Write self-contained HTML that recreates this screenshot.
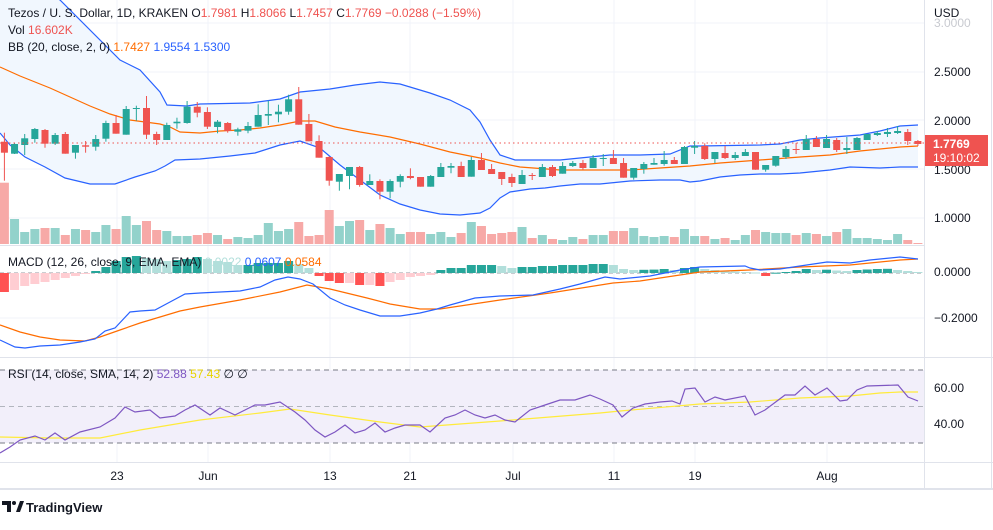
<!DOCTYPE html>
<html><head><meta charset="utf-8"><style>
html,body{margin:0;padding:0;background:#fff;}
body{width:993px;height:525px;overflow:hidden;font-family:"Liberation Sans",sans-serif;}
svg text{font-family:"Liberation Sans",sans-serif;}
</style></head><body>
<svg id="s" width="993" height="525" viewBox="0 0 993 525" xmlns="http://www.w3.org/2000/svg">
<rect width="993" height="525" fill="#fff"/>
<g id="grid" stroke="#f0f3fa" stroke-width="1">
<line x1="117" y1="0" x2="117" y2="462"/><line x1="208" y1="0" x2="208" y2="462"/><line x1="330" y1="0" x2="330" y2="462"/><line x1="410" y1="0" x2="410" y2="462"/><line x1="513" y1="0" x2="513" y2="462"/><line x1="614" y1="0" x2="614" y2="462"/><line x1="695" y1="0" x2="695" y2="462"/><line x1="827" y1="0" x2="827" y2="462"/>
<line x1="0" y1="23" x2="924" y2="23"/><line x1="0" y1="72" x2="924" y2="72"/><line x1="0" y1="120" x2="924" y2="120"/><line x1="0" y1="169" x2="924" y2="169"/><line x1="0" y1="218" x2="924" y2="218"/>
<line x1="0" y1="318" x2="924" y2="318"/><line x1="0" y1="388" x2="924" y2="388"/><line x1="0" y1="424" x2="924" y2="424"/>
</g>
<g id="bb"></g>
<g id="vol"></g>
<g id="cand"></g>
<line x1="0" y1="143" x2="924" y2="143" stroke="#ef5350" stroke-width="1" stroke-dasharray="1.5,3"/>
<g id="macd"></g>
<g id="rsi"></g>
<g stroke="#e0e3eb" stroke-width="1">
<line x1="0" y1="245.5" x2="924" y2="245.5"/>
<line x1="0" y1="357.5" x2="993" y2="357.5"/>
<line x1="0" y1="462.5" x2="993" y2="462.5"/>
<line x1="0" y1="489" x2="993" y2="489" stroke-width="2"/>
<line x1="924.5" y1="0" x2="924.5" y2="489"/>
<line x1="991.5" y1="0" x2="991.5" y2="489"/>
</g>
<g font-size="12" fill="#131722">
<text x="934" y="17">USD</text>
<text x="934" y="27" fill="#c8cad0">3.0000</text>
<text x="934" y="76">2.5000</text>
<text x="934" y="125">2.0000</text>
<text x="934" y="174">1.5000</text>
<text x="934" y="222">1.0000</text>
<text x="934" y="276">0.0000</text>
<text x="934" y="322">−0.2000</text>
<text x="934" y="392">60.00</text>
<text x="934" y="428">40.00</text>
</g>
<rect x="925" y="135" width="63" height="31" fill="#ef5350"/>
<text x="933" y="148" font-size="12" fill="#fff" font-weight="bold">1.7769</text>
<text x="933" y="162" font-size="12" fill="#fff">19:10:02</text>
<g font-size="12" fill="#131722" text-anchor="middle">
<text x="117" y="480">23</text><text x="208" y="480">Jun</text><text x="330" y="480">13</text><text x="410" y="480">21</text><text x="513" y="480">Jul</text><text x="614" y="480">11</text><text x="695" y="480">19</text><text x="827" y="480">Aug</text>
</g>
<g font-size="12">
<text x="8" y="17" fill="#131722" textLength="473" lengthAdjust="spacing">Tezos / U. S. Dollar, 1D, KRAKEN  O<tspan fill="#ef5350">1.7981</tspan>  H<tspan fill="#ef5350">1.8066</tspan>  L<tspan fill="#ef5350">1.7457</tspan>  C<tspan fill="#ef5350">1.7769  −0.0288 (−1.59%)</tspan></text>
<text x="8" y="34" fill="#131722">Vol  <tspan fill="#ef5350">16.602K</tspan></text>
<text x="8" y="51" fill="#131722">BB (20, close, 2, 0)  <tspan fill="#ff6d00">1.7427</tspan>  <tspan fill="#2962ff">1.9554</tspan>  <tspan fill="#2962ff">1.5300</tspan></text>
<text x="8" y="266" fill="#131722">MACD (12, 26, close, 9, EMA, EMA)  <tspan fill="#b2dfdb">0.0022</tspan>  <tspan fill="#2962ff">0.0607</tspan>  <tspan fill="#ff6d00">0.0584</tspan></text>
<text x="8" y="378" fill="#131722">RSI (14, close, SMA, 14, 2)  <tspan fill="#7e57c2">52.88</tspan>  <tspan fill="#e8d400">57.43</tspan>  ∅  ∅</text>
</g>
<g transform="translate(2,501)">
<path d="M0 0h9v11h-4v-7h-5z" fill="#131722"/>
<circle cx="12" cy="2" r="2" fill="#131722"/>
<path d="M14 11l4-11h4l-4 11z" fill="#131722"/>
</g>
<text x="26" y="512" font-size="13" fill="#131722" font-weight="bold">TradingView</text>
</svg>
<script>
var NS="http://www.w3.org/2000/svg";
function el(p,t,a){var e=document.createElementNS(NS,t);for(var k in a)e.setAttribute(k,a[k]);document.getElementById(p).appendChild(e);return e;}
function X(i){return 4.4+10.15*i;}
function pl(pts){return pts.map(function(p){return p[0]+","+p[1]}).join(" ");}
var C=[[141.7,152.7,132.7,180.7,0],[144,153.7,143,154,1],[138.3,145,134,155,1],[129,139,128,142.7,1],[130,143.7,129,147.7,0],[135,143.7,133,145,1],[134,153.7,132,153.7,0],[145,152.7,145,158.7,1],[145.3,146.7,141,152.7,0],[139,146.7,135,150.7,1],
[123,138.7,120.7,141.7,1],[123,133.7,115,133.7,0],[109,134.7,106,134.7,1],[108,109,105.7,120.7,1],[108,134.7,96,139,0],[134,140,131.7,145,0],[125,140,122.7,140,1],[121.7,123.3,117.7,128.7,1],[106.7,123,101,123.7,1],[106.7,112.7,102,117.3,0],
[112,126.7,107.3,129,0],[121.7,127,120,133.3,1],[123,131,122,132.7,0],[129.3,131.7,127.7,135.7,1],[126,130.7,122,133.3,1],[115,126.7,104.3,126.7,1],[114,115.7,100.7,125,1],[111.7,114.3,104.7,122.3,1],[99.3,111.7,94.7,114.7,1],[99.3,124.7,87,124.7,0],
[124,141.3,114,141.3,0],[141,157.7,135.3,157.7,0],[157,180.7,156.3,185.7,0],[174,181.7,174,190.7,1],[167,176,167,189.3,1],[167,185,166,186.7,0],[181,185,174.3,185,1],[181,191.7,179.3,199.3,0],[181,191.7,179.3,198.3,1],[176,181.7,174.3,187.3,1],
[176,178,168.3,179.3,0],[177,186.7,177,186.7,0],[176,186.7,175,186.7,1],[167,177,163,177,1],[166,167.7,163,173.3,1],[166,177,161.7,177,0],[160,176.7,157,176.7,1],[160,170,153,170,0],[169,174,164,174,0],[172,179,172,185,0],
[177,183,173.7,187,0],[175,184,170,184,1],[175,176,173,180,0],[167,177,164,177,1],[167,176,165,177,0],[166,173.7,162,173.7,1],[163,166,161,167,1],[163,168,160,170,0],[158,168,155,168,1],[158,159,154,166,1],
[158,164,150,164,0],[163,177.7,158,177.7,0],[168,177.7,168,179.7,1],[164,169,162,173.7,1],[163,164.7,158,164.7,1],[160,164,151,165.7,1],[160,164,157,164,0],[147,164,146,164,1],[146,147.7,141,154,1],[146,159,143.3,160,0],
[152,159,152,163,1],[153,158,146,159,0],[155,158,152,160,1],[152,156,149,156,1],[152,169.7,152,169.7,0],[165,169.7,165,171.7,1],[156,165.7,156,166.7,1],[149,157,146,159,1],[149,150,143,154,0],[139,150,135,150,1],
[139,147,136,147,0],[139,148,135,148,1],[140,150,138,152,0],[148,150,137,154,1],[138,150,137,150,1],[134,140,134,140,1],[133,135,131,136,1],[132,134,128,137,1],[131,133,126,134,1],[132,141,129,145,0],[141,144,140,146,0]];
var V=[[182.7,0],[219,1],[232,1],[229,1],[228,0],[228,1],[235,0],[229,1],[230,0],[232,1],[225,1],[229,0],[216,1],[225,1],[221,0],[230,0],[231,1],[236,1],[236,1],[235,0],[233,0],[235,1],[239,0],[237,1],[238,1],[235,1],[223,1],[231,1],[229,1],[222,0],[236,0],[235,0],[210,0],
[226,1],[221,1],[220,0],[230,1],[224,0],[228,1],[234,1],[232,0],[232,0],[234,1],[232,1],[237,1],[233,0],[222,1],[226,0],[234,0],[233,0],[232,0],[227,1],[238,0],[235,1],[239,0],[240,1],[237,1],[239,0],[235,1],[235,1],[231,0],
[231,0],[228,1],[236,1],[237,1],[236,1],[237,0],[229,1],[236,1],[236,0],[239,1],[238,0],[240,1],[235,1],[230,0],[232,1],[233,1],[233,1],[235,0],[233,1],[234,0],[236,1],[232,0],[229,1],[238,1],[238,1],[239,1],[240,1],[234,1],[240,0],[243,0]];
V.forEach(function(v,i){el("vol","rect",{x:X(i)-4.5,y:v[0],width:9,height:244-v[0],fill:v[1]?"#93d2cb":"#f7a9a7"});});
var up=[[0,-40],[60,0],[120,60],[140,70],[160,92],[167,105],[187,106],[200,104],[250,103],[280,99],[300,92],[330,89],[355,85],[380,82],[400,84],[430,93],[450,100],[470,110],[480,122],[490,140],[500,155],[515,160],[560,160],[610,155],[640,155],[670,154],[690,146],[700,146],[760,145],[780,144],[800,140],[820,138],[860,135],[880,131],[900,126],[918,125]];
var lo=[[0,133],[10,145],[25,157],[45,167],[65,178],[90,184],[115,184],[135,177],[155,171],[165,166],[175,160],[200,159],[230,156],[255,153],[280,145],[300,141],[320,148],[340,165],[360,180],[380,195],[400,204],[420,210],[440,214],[460,215],[480,213],[490,208],[500,198],[510,192],[530,189],[545,188],[560,186],[580,184],[600,184],[630,181],[660,180],[680,180],[690,182],[700,181],[720,177],[740,175],[760,174],[780,174],[800,173],[820,171],[830,170],[850,167],[880,168],[900,167],[918,167]];
var mid=[[0,67],[20,76],[50,88],[70,97],[90,106],[110,114],[130,120],[160,124],[170,127],[180,132],[200,133],[220,131],[240,130],[260,128],[280,125],[300,121],[315,121],[335,127],[360,132],[390,137],[420,144],[450,152],[480,158],[500,163],[520,167],[560,170],[600,170],[630,170],[660,168],[690,166],[720,163],[760,160],[800,157],[830,155],[860,151],[900,147],[918,146]];
el("bb","polygon",{points:pl(up.concat(lo.slice().reverse())),fill:"#f1f7fe"});
el("bb","polyline",{points:pl(up),fill:"none",stroke:"#2962ff","stroke-width":1.2});
el("bb","polyline",{points:pl(lo),fill:"none",stroke:"#2962ff","stroke-width":1.2});
el("bb","polyline",{points:pl(mid),fill:"none",stroke:"#ff6d00","stroke-width":1.2});
C.forEach(function(c,i){var x=X(i),col=c[4]?"#26a69a":"#ef5350";
el("cand","line",{x1:x,y1:c[2],x2:x,y2:c[3],stroke:col,"stroke-width":1});
el("cand","rect",{x:x-3.5,y:c[0],width:7,height:Math.max(1,c[1]-c[0]),fill:col});});
var Z=273;
el("macd","line",{x1:0,y1:Z,x2:924,y2:Z,stroke:"#9598a1","stroke-width":1,"stroke-dasharray":"4,3"});
var H=[-19,-17,-13,-11,-9,-7,-5,-3,-1,2,6,12,16,17,15,14,12,13,14,16,14,12,11,8,8,10,10,10,12,9,5,-3,-8,-10,-10,-12,-12,-13,-9,-7,-4,-3,-2,3,5,5,8,8,8,7,5,6,6,7,7,8,8,8,9,9,8,4,3,3.2,3.4,4,3,5,6,4,3,2,1.5,1,0.5,-3,0.3,1,2,4,3,3.3,2.5,2,3,3.5,4,4.2,3,2,1];
H.forEach(function(h,i){var p=i?H[i-1]:h+1,col;
if(h>=0)col=(h>=p)?"#26a69a":"#b2dfdb";else col=(h<p)?"#ff5252":"#ffcdd2";
el("macd","rect",{x:X(i)-4.5,y:h>=0?Z-h:Z,width:9,height:Math.max(1,Math.abs(h)),fill:col});});
var mb=[[0,340],[15,347],[25,348],[40,346],[60,345],[80,342],[95,339],[105,331],[115,328],[130,312],[140,311],[155,310],[170,302],[185,294],[200,293],[240,291],[260,287],[275,280],[288,277],[300,279],[313,284],[330,298],[345,305],[360,310],[380,316],[400,316],[420,313],[437,309],[450,305],[475,298],[500,296],[533,295],[560,289],[580,284],[605,277],[620,279],[650,276],[680,270],[700,267],[745,266],[750,268],[760,270],[780,269],[800,266],[827,262],[850,263],[870,260],[900,257],[918,259]];
var ms=[[0,325],[20,332],[40,337],[60,340],[85,341],[100,337],[120,330],[140,323],[160,317],[180,311],[200,307],[240,300],[280,292],[307,285],[330,289],[367,298],[390,304],[420,309],[440,309],[460,306],[500,300],[550,293],[613,283],[640,281],[700,272],[750,270],[800,267],[850,265],[900,260],[918,259]];
el("macd","polyline",{points:pl(ms),fill:"none",stroke:"#ff6d00","stroke-width":1.2});
el("macd","polyline",{points:pl(mb),fill:"none",stroke:"#2962ff","stroke-width":1.2});
el("rsi","rect",{x:0,y:370,width:924,height:73,fill:"#f2effa"});
el("rsi","line",{x1:0,y1:370,x2:924,y2:370,stroke:"#787b86","stroke-dasharray":"5,4"});
el("rsi","line",{x1:0,y1:443,x2:924,y2:443,stroke:"#787b86","stroke-dasharray":"5,4"});
el("rsi","line",{x1:0,y1:406.5,x2:924,y2:406.5,stroke:"#b2b5be","stroke-dasharray":"5,4"});
var ry=[[0,437],[50,438],[100,438],[140,430],[200,420],[260,413],[290,409],[330,415],[380,422],[420,427],[460,424],[500,421],[550,417],[600,413],[620,411],[700,404],[750,402],[800,398],[850,396],[880,393],[900,392],[918,392]];
var rp=[[0,453],[10,447],[20,440],[35,436],[45,440],[55,433],[65,440],[80,432],[100,427],[115,418],[125,407],[135,412],[150,410],[160,418],[175,416],[185,410],[195,405],[210,415],[220,408],[235,415],[245,410],[255,405],[265,405],[280,402],[295,412],[305,420],[315,430],[325,437],[335,432],[345,425],[355,433],[365,430],[375,423],[385,432],[395,428],[405,425],[420,425],[430,432],[445,418],[455,415],[465,410],[475,415],[485,418],[495,415],[505,420],[515,422],[530,410],[545,405],[560,400],[575,400],[590,395],[600,399],[613,405],[622,417],[633,408],[645,404],[660,402],[672,401],[680,404],[685,389],[695,388],[705,402],[715,397],[725,400],[745,396],[755,415],[765,410],[785,395],[795,395],[805,386],[815,395],[827,388],[840,401],[847,400],[857,390],[867,386],[898,385],[908,397],[918,401]];
el("rsi","polyline",{points:pl(ry),fill:"none",stroke:"#ffeb3b","stroke-width":1.2});
el("rsi","polyline",{points:pl(rp),fill:"none",stroke:"#7e57c2","stroke-width":1.2});
</script>
</body></html>
